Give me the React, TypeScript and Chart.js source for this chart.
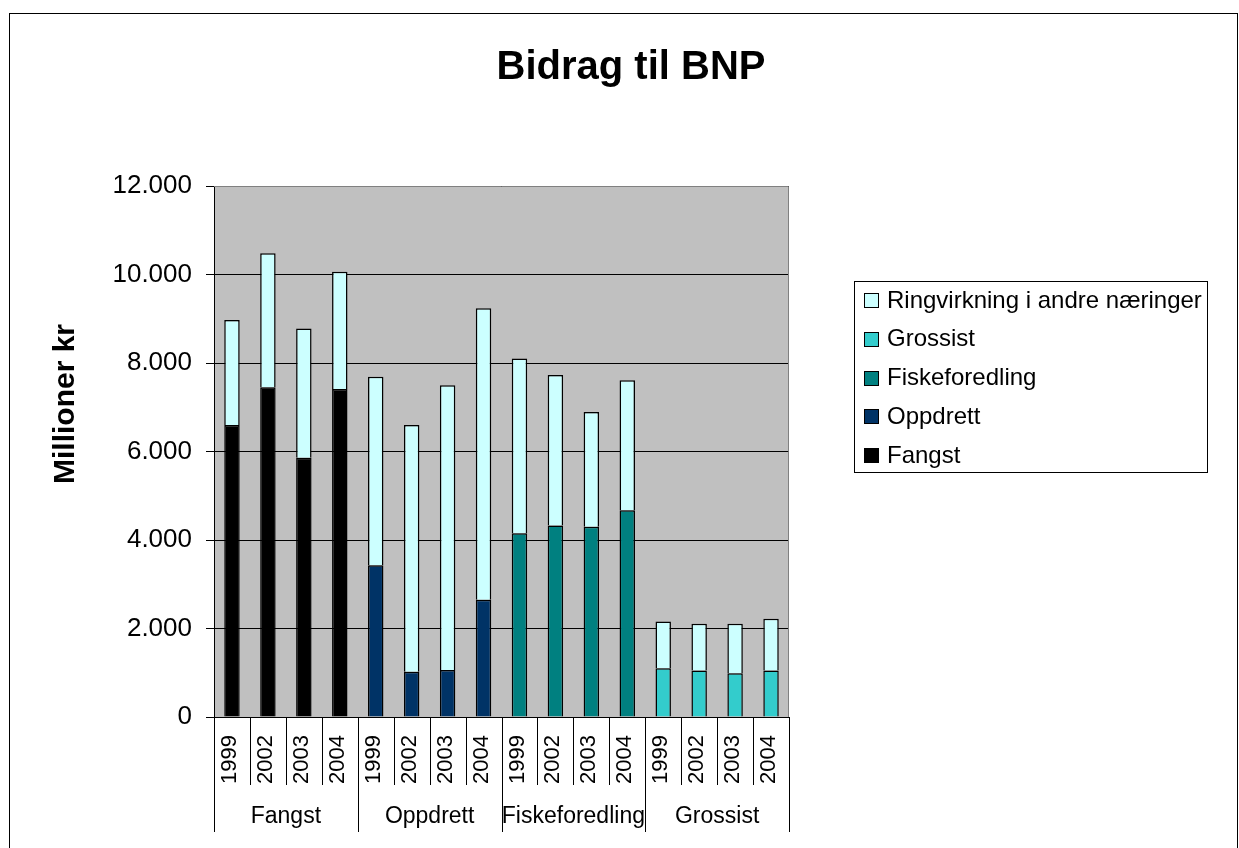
import React, { useEffect, useRef } from "react";
import { Chart, registerables } from "chart.js";

Chart.register(...registerables);

const years = ["1999", "2002", "2003", "2004"];
const groups = ["Fangst", "Oppdrett", "Fiskeforedling", "Grossist"];
const yTickLabels = ["0", "2.000", "4.000", "6.000", "8.000", "10.000", "12.000"];

const fangst = [6600, 7450, 5860, 7410];
const oppdrett = [3430, 1020, 1060, 2650];
const fiskeforedling = [4150, 4330, 4300, 4670];
const grossist = [1100, 1050, 990, 1050];
const ringvirkning = [
  2370, 3030, 2920, 2650,
  4260, 5580, 6440, 6590,
  3950, 3400, 2590, 2940,
  1060, 1060, 1120, 1170,
];

const seriesNames = ["Fangst", "Oppdrett", "Fiskeforedling", "Grossist", "Ringvirkning i andre næringer"];
const seriesColors = ["#000000", "#003366", "#008080", "#33CCCC", "#CCFFFF"];

const FONT = "'Liberation Sans', Arial, sans-serif";

const categories = groups.flatMap((g) => years.map((y) => `${g} ${y}`));
const yearLabels = groups.flatMap(() => years);

const pad = (vals: number[], gi: number) =>
  categories.map((_, i) => (Math.floor(i / 4) === gi ? vals[i % 4] : null));

const decorPlugin = {
  id: "decor",
  beforeDraw(chart: any) {
    const { ctx, chartArea: a } = chart;
    ctx.save();
    ctx.fillStyle = "#ffffff";
    ctx.fillRect(0, 0, chart.width, chart.height);
    ctx.fillStyle = "#C0C0C0";
    ctx.fillRect(a.left, a.top, a.right - a.left, a.bottom - a.top);
    ctx.restore();
  },
  afterDraw(chart: any) {
    const { ctx, chartArea: a } = chart;
    const xs = chart.scales.x;
    ctx.save();
    // outer border
    ctx.strokeStyle = "#000";
    ctx.lineWidth = 1;
    ctx.strokeRect(9.5, 13.5, 1228, 900);

    // plot top/right border
    ctx.strokeStyle = "#808080";
    ctx.beginPath();
    ctx.moveTo(a.left, a.top + 0.5);
    ctx.lineTo(a.right - 0.5, a.top + 0.5);
    ctx.lineTo(a.right - 0.5, a.bottom);
    ctx.stroke();

    // x axis line
    ctx.strokeStyle = "#000";
    ctx.beginPath();
    ctx.moveTo(a.left - 8, Math.round(a.bottom) + 0.5);
    ctx.lineTo(a.right, Math.round(a.bottom) + 0.5);
    ctx.stroke();

    const n = categories.length;
    const centers = categories.map((_, i) => xs.getPixelForValue(i));
    const bound = (i: number) =>
      i === 0 ? a.left : i === n ? a.right : (centers[i - 1] + centers[i]) / 2;

    // dividers
    ctx.strokeStyle = "#000";
    for (let i = 0; i <= n; i++) {
      const x = Math.round(bound(i)) + 0.5;
      ctx.beginPath();
      ctx.moveTo(x, a.bottom);
      ctx.lineTo(x, i % 4 === 0 ? 832 : 785);
      ctx.stroke();
    }

    // year labels
    ctx.fillStyle = "#000";
    ctx.font = `22px ${FONT}`;
    for (let i = 0; i < n; i++) {
      ctx.save();
      ctx.translate(centers[i] - 2, 784);
      ctx.rotate(-Math.PI / 2);
      ctx.textAlign = "left";
      ctx.textBaseline = "middle";
      ctx.fillText(yearLabels[i], 0, 0);
      ctx.restore();
    }

    // group labels
    ctx.font = `23px ${FONT}`;
    ctx.textAlign = "center";
    ctx.textBaseline = "middle";
    groups.forEach((g, gi) => {
      const cx = (bound(gi * 4) + bound(gi * 4 + 4)) / 2;
      ctx.fillText(g, cx, 817);
    });

    // title
    ctx.font = `bold 40px ${FONT}`;
    ctx.fillText("Bidrag til BNP", 631, 68);

    // y axis title
    ctx.save();
    ctx.translate(66, 404);
    ctx.rotate(-Math.PI / 2);
    ctx.font = `bold 30px ${FONT}`;
    ctx.textAlign = "center";
    ctx.textBaseline = "middle";
    ctx.fillText("Millioner kr", 0, 0);
    ctx.restore();

    // legend
    ctx.strokeStyle = "#000";
    ctx.strokeRect(854.5, 281.5, 353, 191);
    ctx.font = `24px ${FONT}`;
    ctx.textAlign = "left";
    ctx.textBaseline = "middle";
    const order = [4, 3, 2, 1, 0];
    order.forEach((si, r) => {
      const cy = 300 + r * 38.8;
      ctx.fillStyle = seriesColors[si];
      ctx.fillRect(864, Math.round(cy - 7), 15, 15);
      ctx.strokeStyle = "#000";
      ctx.strokeRect(864.5, Math.round(cy - 7) + 0.5, 14, 14);
      ctx.fillStyle = "#000";
      ctx.fillText(seriesNames[si], 887, cy + 1);
    });
    ctx.restore();
  },
};

export default function App() {
  const ref = useRef<HTMLCanvasElement | null>(null);
  useEffect(() => {
    if (!ref.current) return;
    const datasets = [
      ...[fangst, oppdrett, fiskeforedling, grossist].map((vals, gi) => ({
        label: seriesNames[gi],
        data: pad(vals, gi),
        backgroundColor: seriesColors[gi],
      })),
      { label: seriesNames[4], data: ringvirkning, backgroundColor: seriesColors[4] },
    ].map((d) => ({
      ...d,
      borderColor: "#000",
      borderWidth: 1.5,
      barPercentage: 0.43,
      categoryPercentage: 1,
    }));
    const chart = new Chart(ref.current, {
      type: "bar",
      data: { labels: categories, datasets },
      options: {
        animation: false,
        responsive: false,
        devicePixelRatio: 1,
        layout: { padding: { left: 14, top: 186, right: 450, bottom: 131 } },
        plugins: { legend: { display: false }, tooltip: { enabled: false }, title: { display: false } },
        scales: {
          x: { stacked: true, display: false },
          y: {
            stacked: true,
            min: 0,
            max: 12000,
            afterFit: (s: any) => {
              s.width = 200;
            },
            ticks: {
              stepSize: 2000,
              color: "#000",
              font: { family: FONT, size: 26 },
              padding: 14,
              callback: (_v: any, i: number) => yTickLabels[i],
            },
            grid: {
              color: "#000",
              tickLength: 8,
              lineWidth: 1,
            },
            border: { display: true, color: "#000" },
          },
        },
      },
      plugins: [decorPlugin],
    });
    return () => chart.destroy();
  }, []);
  return (
    <div style={{ position: "absolute", left: 0, top: 0, width: 1239, height: 848 }}>
      <canvas ref={ref} width={1239} height={848} style={{ display: "block" }} />
    </div>
  );
}
